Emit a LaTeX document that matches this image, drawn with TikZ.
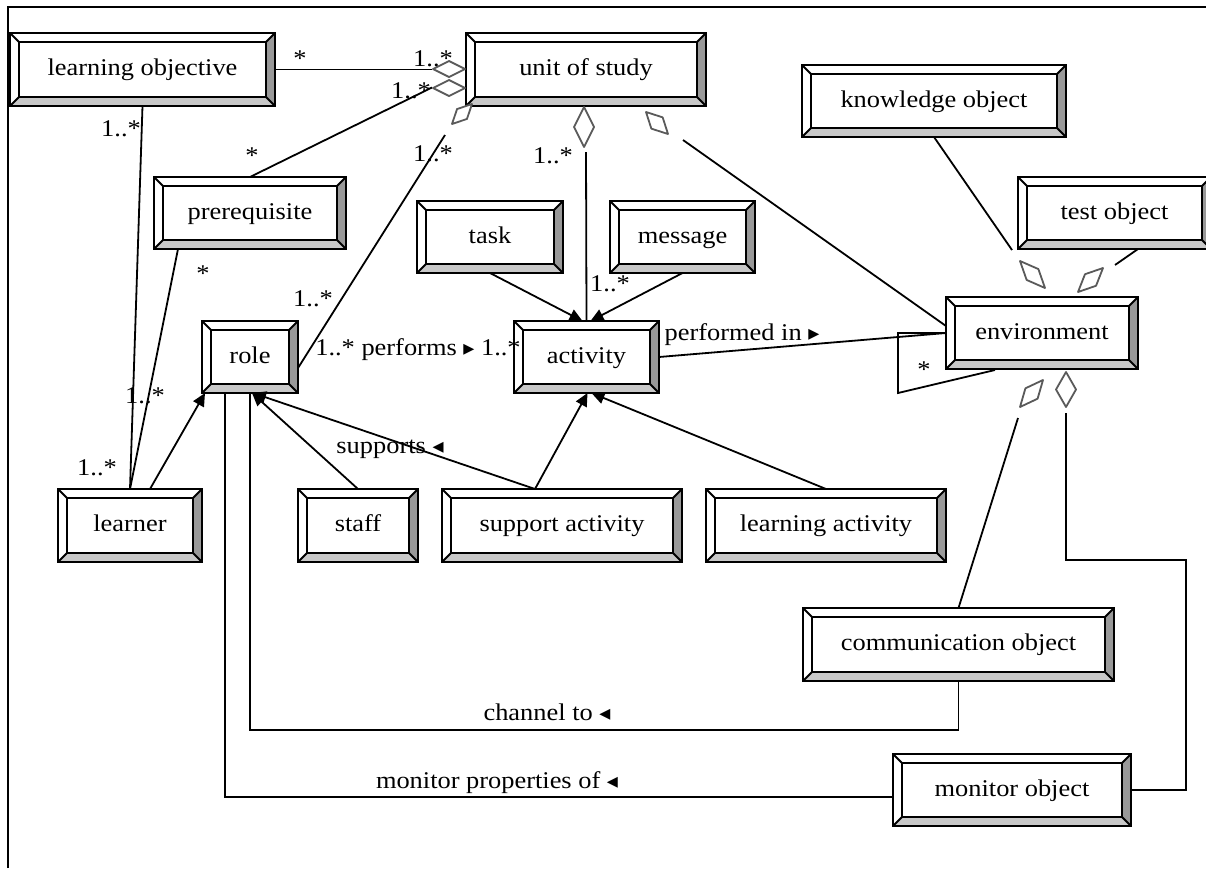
\documentclass[tikz,border=0pt]{standalone}
\usepackage{fontspec}
\setmainfont{Liberation Serif}[FakeStretch=1.1]
\newfontfamily\symfont{DejaVu Sans}
\usetikzlibrary{arrows.meta,calc}
\definecolor{bevR}{HTML}{999999}
\definecolor{bevB}{HTML}{C8C8C8}
\definecolor{diacol}{HTML}{5A5A5A}
\tikzset{
  boxline/.style={line width=2pt, black, line join=miter},
  boxtext/.style={inner sep=0pt, outer sep=0pt, text height=17pt, text depth=5pt, font=\fontsize{24}{28}\selectfont},
  conn/.style={line width=1.8pt, black},
  arr/.style={conn, -{Triangle[length=13pt,width=12pt]}},
  dia/.style={draw=diacol, fill=white, line width=1.8pt, line join=round},
  lbl/.style={inner sep=0pt, anchor=base, font=\fontsize{24}{28}\selectfont},
}
\newcommand\ubox[6]{%
  \fill[white] (#2,#3) rectangle (#4,#5);
  \fill[bevR] (#4,#3) -- (#4,#5) -- ({#4-9},{#5-9}) -- ({#4-9},{#3+9}) -- cycle;
  \fill[bevB] (#2,#5) -- (#4,#5) -- ({#4-9},{#5-9}) -- ({#2+9},{#5-9}) -- cycle;
  \draw[boxline] (#2,#3) rectangle (#4,#5);
  \draw[boxline] ({#2+9},{#3+9}) rectangle ({#4-9},{#5-9});
  \draw[boxline] (#2,#3) -- ({#2+9},{#3+9}) (#4,#3) -- ({#4-9},{#3+9})
     (#2,#5) -- ({#2+9},{#5-9}) (#4,#5) -- ({#4-9},{#5-9});
  \node[boxtext, minimum width={(#4-#2)*1pt}, minimum height={(#5-#3)*1pt}] (#1) at ({(#2+#4)/2},{(#3+#5)/2}) {#6};
}
\newcommand\dmd[5]{%
  \coordinate (dA) at (#1,#2); \coordinate (dB) at (#3,#4);
  \coordinate (dM) at ($(dA)!0.5!(dB)$);
  \filldraw[dia] (dA) -- ($(dM)!#5pt!90:(dB)$) -- (dB) -- ($(dM)!#5pt!-90:(dB)$) -- cycle;
}
\newcommand\rtri{{\symfont\fontsize{22}{22}\selectfont ▸}}
\newcommand\ltri{{\symfont\fontsize{22}{22}\selectfont ◂}}
\begin{document}
\begin{tikzpicture}[x=1pt,y=-1pt]
\useasboundingbox (0,0) rectangle (1206,868);
\fill[white] (0,0) rectangle (1206,868);
\draw[line width=2pt] (8,868) -- (8,7) -- (1206,7);

% boxes
\ubox{lo}{10}{33}{275}{106}{learning objective}
\ubox{us}{466}{33}{706}{106}{unit of study}
\ubox{ko}{802}{65}{1066}{137}{knowledge object}
\ubox{pr}{154}{177}{346}{249}{prerequisite}
\ubox{tk}{417}{201}{563}{273}{task}
\ubox{ms}{610}{201}{755}{273}{message}
\ubox{to}{1018}{177}{1211}{249}{test object}
\ubox{ro}{202}{321}{298}{393}{role}
\ubox{ac}{514}{321}{659}{393}{activity}
\ubox{en}{946}{297}{1138}{369}{environment}
\ubox{le}{58}{489}{202}{562}{learner}
\ubox{st}{298}{489}{418}{562}{staff}
\ubox{sa}{442}{489}{682}{562}{support activity}
\ubox{la}{706}{489}{946}{562}{learning activity}
\ubox{co}{803}{608}{1114}{681}{communication object}
\ubox{mo}{893}{754}{1131}{826}{monitor object}

% connectors
\draw[conn] (lo.east) -- ([xshift=-34pt]us.west);
\draw[conn] (pr.north) -- ([xshift=-34pt,yshift=-18pt]us.west);
\draw[conn] ([yshift=-11pt]ro.east) -- ([xshift=-21pt,yshift=-29pt]us.south west);
\draw[conn] (lo.south) -- (le.north);
\draw[conn] ([xshift=24pt]pr.south west) -- (le.north);
\draw[arr] ([xshift=20pt]le.north) -- ([xshift=3pt]ro.south west);
\draw[arr] (st.north) -- ([xshift=2pt]ro.south);
\draw[arr] ([xshift=-27pt]sa.north) -- ([xshift=3pt]ro.south);
\draw[arr] ([xshift=-27pt]sa.north) -- ([xshift=1pt]ac.south);
\draw[arr] (la.north) -- ([xshift=5pt]ac.south);
\draw[arr] (tk.south) -- ([xshift=-4pt]ac.north);
\draw[arr] (ms.south) -- ([xshift=4pt]ac.north);
\draw[conn] ([yshift=-46pt]us.south) -- (ac.north);
\draw[conn] ([xshift=-23pt,yshift=-34pt]us.south east) -- ([yshift=7pt]en.west);
\draw[conn] (ac.east) -- (en.west);
\draw[conn] (en.west) -- ++(-48,0) -- ++(0,60) -- ([xshift=-47pt,yshift=-1pt]en.south);
\draw[conn] (ko.south) -- ++(78,113);
\draw[conn] ([xshift=120pt]to.south west) -- ++(-23,16);
\draw[conn] (co.north) -- ([xshift=-24pt,yshift=-49pt]en.south);
\draw[conn] ([xshift=24pt,yshift=-44pt]en.south) -- ++(0,147) -- ++(120,0) |- (mo.east);
\draw[conn] ([xshift=-25pt]ro.south) |- ([yshift=-7pt]mo.west);
\draw[conn] (ro.south) |- ($(co.south)+(0,49)$) -- (co.south);

% aggregation diamonds
\dmd{433}{69}{465}{69}{8}
\dmd{433}{88}{465}{88}{8}
\dmd{452}{124}{472}{104}{7}
\dmd{584}{107}{584}{147}{10}
\dmd{646}{112}{668}{134}{8}
\dmd{1020}{261}{1045}{288}{8}
\dmd{1103}{268}{1078}{292}{8}
\dmd{1043}{380}{1020}{407}{8}
\dmd{1066}{372}{1066}{407}{10}

% labels
\node[lbl] (m1) at (300,66) {*};
\node[lbl] (m2) at (433,66) {1..*};
\node[lbl] (m3) at (411,98) {1..*};
\node[lbl] (m4) at (121,136) {1..*};
\node[lbl] (m5) at (252,163) {*};
\node[lbl] (m6) at (433,161) {1..*};
\node[lbl] (m7) at (553,163) {1..*};
\node[lbl] (m8) at (203,281) {*};
\node[lbl] (m9) at (313,306) {1..*};
\node[lbl] (m10) at (418,355) {1..* performs \rtri\ 1..*};
\node[lbl] (m11) at (610,291) {1..*};
\node[lbl] (m12) at (742,340) {performed in \rtri};
\node[lbl] (m13) at (924,377) {*};
\node[lbl] (m14) at (145,403) {1..*};
\node[lbl] (m15) at (97,475) {1..*};
\node[lbl] (m16) at (390,453) {supports \ltri};
\node[lbl] (m17) at (547,720) {channel to \ltri};
\node[lbl] (m18) at (497,788) {monitor properties of \ltri};
\end{tikzpicture}
\end{document}
